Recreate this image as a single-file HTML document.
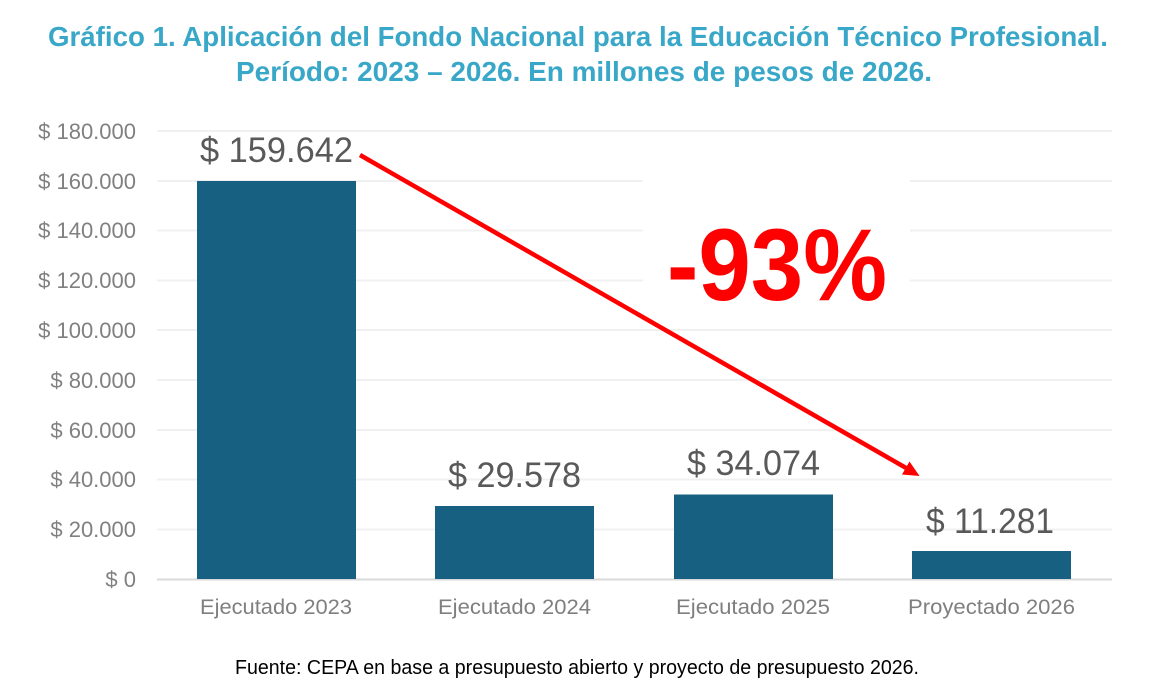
<!DOCTYPE html>
<html>
<head>
<meta charset="utf-8">
<style>
  html, body { margin: 0; padding: 0; background: #ffffff; }
  svg { display: block; }
  text { font-family: "Liberation Sans", Arial, sans-serif; }
</style>
</head>
<body>
<svg width="1176" height="684" viewBox="0 0 1176 684" xmlns="http://www.w3.org/2000/svg">
  <rect x="0" y="0" width="1176" height="684" fill="#ffffff"/>

  <!-- Title -->
  <text x="48" y="46" font-size="27.5" font-weight="bold" fill="#39a7c7" textLength="1060" lengthAdjust="spacingAndGlyphs">Gráfico 1. Aplicación del Fondo Nacional para la Educación Técnico Profesional.</text>
  <text x="236" y="81" font-size="27.5" font-weight="bold" fill="#39a7c7" textLength="696" lengthAdjust="spacingAndGlyphs">Período: 2023 – 2026. En millones de pesos de 2026.</text>

  <!-- Gridlines -->
  <g stroke="#f0f0f0" stroke-width="2">
    <line x1="157" y1="131" x2="1112" y2="131"/>
    <line x1="157" y1="181" x2="1112" y2="181"/>
    <line x1="157" y1="230.5" x2="1112" y2="230.5"/>
    <line x1="157" y1="280.5" x2="1112" y2="280.5"/>
    <line x1="157" y1="330" x2="1112" y2="330"/>
    <line x1="157" y1="380" x2="1112" y2="380"/>
    <line x1="157" y1="430" x2="1112" y2="430"/>
    <line x1="157" y1="479.5" x2="1112" y2="479.5"/>
    <line x1="157" y1="529.5" x2="1112" y2="529.5"/>
  </g>
  <line x1="157" y1="579.5" x2="1112" y2="579.5" stroke="#d9d9d9" stroke-width="2"/>

  <!-- Y axis labels -->
  <g font-size="22" fill="#808080" text-anchor="end">
    <text x="136" y="139">$ 180.000</text>
    <text x="136" y="189">$ 160.000</text>
    <text x="136" y="238">$ 140.000</text>
    <text x="136" y="288">$ 120.000</text>
    <text x="136" y="338">$ 100.000</text>
    <text x="136" y="388">$ 80.000</text>
    <text x="136" y="438">$ 60.000</text>
    <text x="136" y="487">$ 40.000</text>
    <text x="136" y="537">$ 20.000</text>
    <text x="136" y="587">$ 0</text>
  </g>

  <!-- Bars -->
  <g fill="#186082">
    <rect x="197" y="181" width="159" height="398"/>
    <rect x="435" y="506" width="159" height="73"/>
    <rect x="674" y="494.5" width="159" height="84.5"/>
    <rect x="912" y="551" width="159" height="28"/>
  </g>

  <!-- Data labels -->
  <g font-size="35.5" fill="#595959">
    <text x="200" y="162" textLength="153" lengthAdjust="spacingAndGlyphs">$ 159.642</text>
    <text x="448" y="487" textLength="133" lengthAdjust="spacingAndGlyphs">$ 29.578</text>
    <text x="687" y="475" textLength="133" lengthAdjust="spacingAndGlyphs">$ 34.074</text>
    <text x="926" y="533" textLength="128" lengthAdjust="spacingAndGlyphs">$ 11.281</text>
  </g>

  <!-- Category labels -->
  <g font-size="21.5" fill="#7f7f7f">
    <text x="200" y="614" textLength="152" lengthAdjust="spacingAndGlyphs">Ejecutado 2023</text>
    <text x="438" y="614" textLength="153" lengthAdjust="spacingAndGlyphs">Ejecutado 2024</text>
    <text x="676" y="614" textLength="154" lengthAdjust="spacingAndGlyphs">Ejecutado 2025</text>
    <text x="908" y="614" textLength="167" lengthAdjust="spacingAndGlyphs">Proyectado 2026</text>
  </g>

  <!-- White box behind -93% -->
  <rect x="643" y="136" width="267" height="152" fill="#ffffff"/>

  <!-- Arrow -->
  <line x1="360" y1="155" x2="907" y2="468.5" stroke="#ff0000" stroke-width="4.5"/>
  <polygon points="909.5,461.5 919.5,476 902,474.5" fill="#ff0000"/>

  <!-- -93% -->
  <text x="667" y="300" font-size="102" font-weight="bold" fill="#ff0000" textLength="220" lengthAdjust="spacingAndGlyphs">-93%</text>

  <!-- Footer -->
  <text x="235" y="674" font-size="20" fill="#000000" textLength="684" lengthAdjust="spacingAndGlyphs">Fuente: CEPA en base a presupuesto abierto y proyecto de presupuesto 2026.</text>
</svg>
</body>
</html>
